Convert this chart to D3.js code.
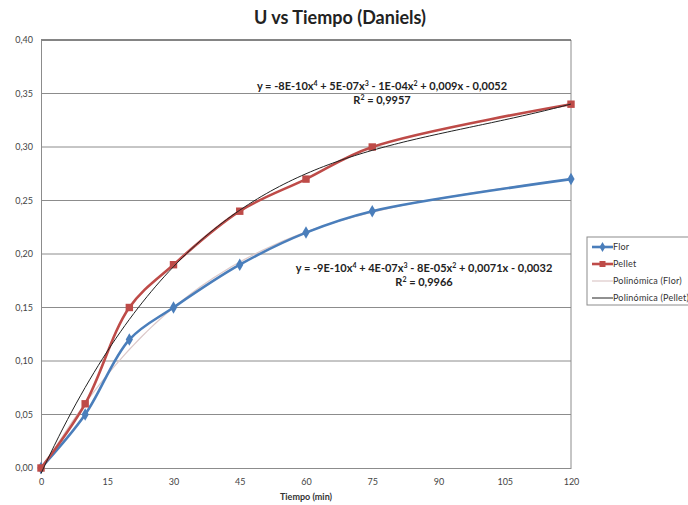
<!DOCTYPE html>
<html>
<head>
<meta charset="utf-8">
<script src="https://cdn.jsdelivr.net/npm/d3@7"></script>
<style>
  body { margin: 0; background: #fff; }
  svg { font-family: Lato, "Open Sans", sans-serif; }
</style>
</head>
<body>
<svg id="chart" width="688" height="505"></svg>
<script>
const tiempo = [0, 10, 20, 30, 45, 60, 75, 120];
const flor = [0, 0.05, 0.12, 0.15, 0.19, 0.22, 0.24, 0.27];
const pellet = [0, 0.06, 0.15, 0.19, 0.24, 0.27, 0.30, 0.34];
const xTicks = [0, 15, 30, 45, 60, 75, 90, 105, 120];
const yTicks = [0, 0.05, 0.10, 0.15, 0.20, 0.25, 0.30, 0.35, 0.40];
const legendLabels = ["Flor", "Pellet", "Polinómica (Flor)", "Polinómica (Pellet)"];

const margin = { top: 40, right: 117, bottom: 37, left: 41 };
const width = 688, height = 505;

const svg = d3.select("#chart");

const x = d3.scaleLinear().domain([0, 120]).range([margin.left, width - margin.right]);
const y = d3.scaleLinear().domain([0, 0.4]).range([height - margin.bottom, margin.top]);

const fmt = d => d3.format(".2f")(d).replace(".", ",");

// polynomial least squares fit, order 4 (the Excel trendline)
function polyFit(xs, ys, order) {
  const n = order + 1;
  const A = [];
  for (let i = 0; i < n; i++) {
    A.push([]);
    for (let j = 0; j < n; j++) A[i].push(d3.sum(xs, v => Math.pow(v, i + j)));
    A[i].push(d3.sum(xs, (v, k) => Math.pow(v, i) * ys[k]));
  }
  for (let c = 0; c < n; c++) {
    let p = c;
    for (let r = c + 1; r < n; r++) if (Math.abs(A[r][c]) > Math.abs(A[p][c])) p = r;
    [A[c], A[p]] = [A[p], A[c]];
    for (let r = 0; r < n; r++) {
      if (r === c) continue;
      const f = A[r][c] / A[c][c];
      for (let k = c; k <= n; k++) A[r][k] -= f * A[c][k];
    }
  }
  const coef = A.map((row, i) => row[n] / row[i]);
  return v => coef.reduce((s, cf, i) => s + cf * Math.pow(v, i), 0);
}

// title
svg.append("text")
  .attr("x", 340).attr("y", 24)
  .attr("text-anchor", "middle")
  .attr("font-weight", "bold")
  .attr("font-size", 18)
  .attr("fill", "#222")
  .text("U vs Tiempo (Daniels)");

// gridlines
svg.append("g")
  .selectAll("line")
  .data(yTicks.slice(1))
  .join("line")
  .attr("x1", margin.left).attr("x2", width - margin.right)
  .attr("y1", d => y(d)).attr("y2", d => y(d))
  .attr("stroke", "#8c8c8c")
  .attr("stroke-width", 1);

// plot border
svg.append("line")
  .attr("x1", width - margin.right).attr("x2", width - margin.right)
  .attr("y1", margin.top).attr("y2", height - margin.bottom)
  .attr("stroke", "#8c8c8c");
svg.append("line")
  .attr("x1", margin.left).attr("x2", width - margin.right)
  .attr("y1", margin.top).attr("y2", margin.top)
  .attr("stroke", "#444");

// axes
const xAxis = svg.append("g")
  .attr("transform", `translate(0,${height - margin.bottom})`)
  .call(d3.axisBottom(x).tickValues(xTicks).tickSize(0).tickPadding(11));
const yAxis = svg.append("g")
  .attr("transform", `translate(${margin.left},0)`)
  .call(d3.axisLeft(y).tickValues(yTicks).tickFormat(fmt).tickSize(0).tickPadding(8));
[xAxis, yAxis].forEach(g => {
  g.select(".domain").attr("stroke", "#8c8c8c");
  g.selectAll("text").attr("font-size", 9).attr("fill", "#444").attr("font-family", "Lato, sans-serif");
});

svg.append("text")
  .attr("x", 306).attr("y", 500)
  .attr("text-anchor", "middle")
  .attr("font-weight", "bold")
  .attr("font-size", 9)
  .attr("fill", "#333")
  .text("Tiempo (min)");

// trendlines
const trendX = d3.range(0, 120.5, 1);
const florFit = polyFit(tiempo, flor, 4);
const pelletFit = polyFit(tiempo, pellet, 4);
const trendLine = f => d3.line().x(d => x(d)).y(d => y(f(d)));

svg.append("path")
  .attr("d", trendLine(florFit)(trendX))
  .attr("fill", "none").attr("stroke", "#dcc8c8").attr("stroke-width", 1.2);

// series
const series = [
  { name: "Flor", values: flor, color: "#4a7ebb", marker: d3.symbolDiamond, size: 45 },
  { name: "Pellet", values: pellet, color: "#be4b48", marker: d3.symbolSquare, size: 55 },
];
const line = d3.line().x((d, i) => x(tiempo[i])).y(d => y(d)).curve(d3.curveCatmullRom.alpha(0.5));

series.forEach(s => {
  svg.append("path")
    .attr("d", line(s.values))
    .attr("fill", "none").attr("stroke", s.color).attr("stroke-width", 2.6);
  svg.append("g")
    .selectAll("path")
    .data(s.values)
    .join("path")
    .attr("transform", (d, i) => `translate(${x(tiempo[i])},${y(d)})`)
    .attr("d", d3.symbol(s.marker, s.size))
    .attr("fill", s.color);
});

svg.append("path")
  .attr("d", trendLine(pelletFit)(trendX))
  .attr("fill", "none").attr("stroke", "#222").attr("stroke-width", 1);

// equations
function equation(cx, cy, parts, r2) {
  const t = svg.append("text")
    .attr("x", cx).attr("y", cy)
    .attr("text-anchor", "middle")
    .attr("font-weight", "bold")
    .attr("font-size", 11)
    .attr("fill", "#222");
  parts.forEach(p => {
    if (p.sup) t.append("tspan").attr("font-size", 7).attr("dy", -4).text(p.sup);
    else t.append("tspan").attr("dy", p.after ? 4 : 0).text(p.t);
  });
  const r = svg.append("text")
    .attr("x", cx).attr("y", cy + 14)
    .attr("text-anchor", "middle")
    .attr("font-weight", "bold")
    .attr("font-size", 11)
    .attr("fill", "#222");
  r.append("tspan").text("R");
  r.append("tspan").attr("font-size", 7).attr("dy", -4).text("2");
  r.append("tspan").attr("dy", 4).text(" = " + r2);
}

equation(382, 90, [
  { t: "y = -8E-10x" }, { sup: "4" }, { t: " + 5E-07x", after: true }, { sup: "3" },
  { t: " - 1E-04x", after: true }, { sup: "2" }, { t: " + 0,009x - 0,0052", after: true }
], "0,9957");

equation(424, 272, [
  { t: "y = -9E-10x" }, { sup: "4" }, { t: " + 4E-07x", after: true }, { sup: "3" },
  { t: " - 8E-05x", after: true }, { sup: "2" }, { t: " + 0,0071x - 0,0032", after: true }
], "0,9966");

// legend
const lg = svg.append("g").attr("transform", "translate(587,237)");
lg.append("rect")
  .attr("width", 110).attr("height", 68)
  .attr("fill", "#fff").attr("stroke", "#8c8c8c");
const legendStyles = [
  { color: "#4a7ebb", w: 2.6, marker: d3.symbolDiamond, size: 30 },
  { color: "#be4b48", w: 2.6, marker: d3.symbolSquare, size: 36 },
  { color: "#dcc8c8", w: 1.2 },
  { color: "#222", w: 1 },
];
legendLabels.forEach((lab, i) => {
  const g = lg.append("g").attr("transform", `translate(0,${10 + i * 17})`);
  const st = legendStyles[i];
  g.append("line").attr("x1", 5).attr("x2", 26).attr("stroke", st.color).attr("stroke-width", st.w);
  if (st.marker) g.append("path").attr("transform", "translate(15.5,0)")
    .attr("d", d3.symbol(st.marker, st.size)).attr("fill", st.color);
  g.append("text").attr("x", 26).attr("y", 3)
    .attr("font-size", 9).attr("letter-spacing", 0.2).attr("fill", "#333").text(lab);
});
</script>
</body>
</html>
